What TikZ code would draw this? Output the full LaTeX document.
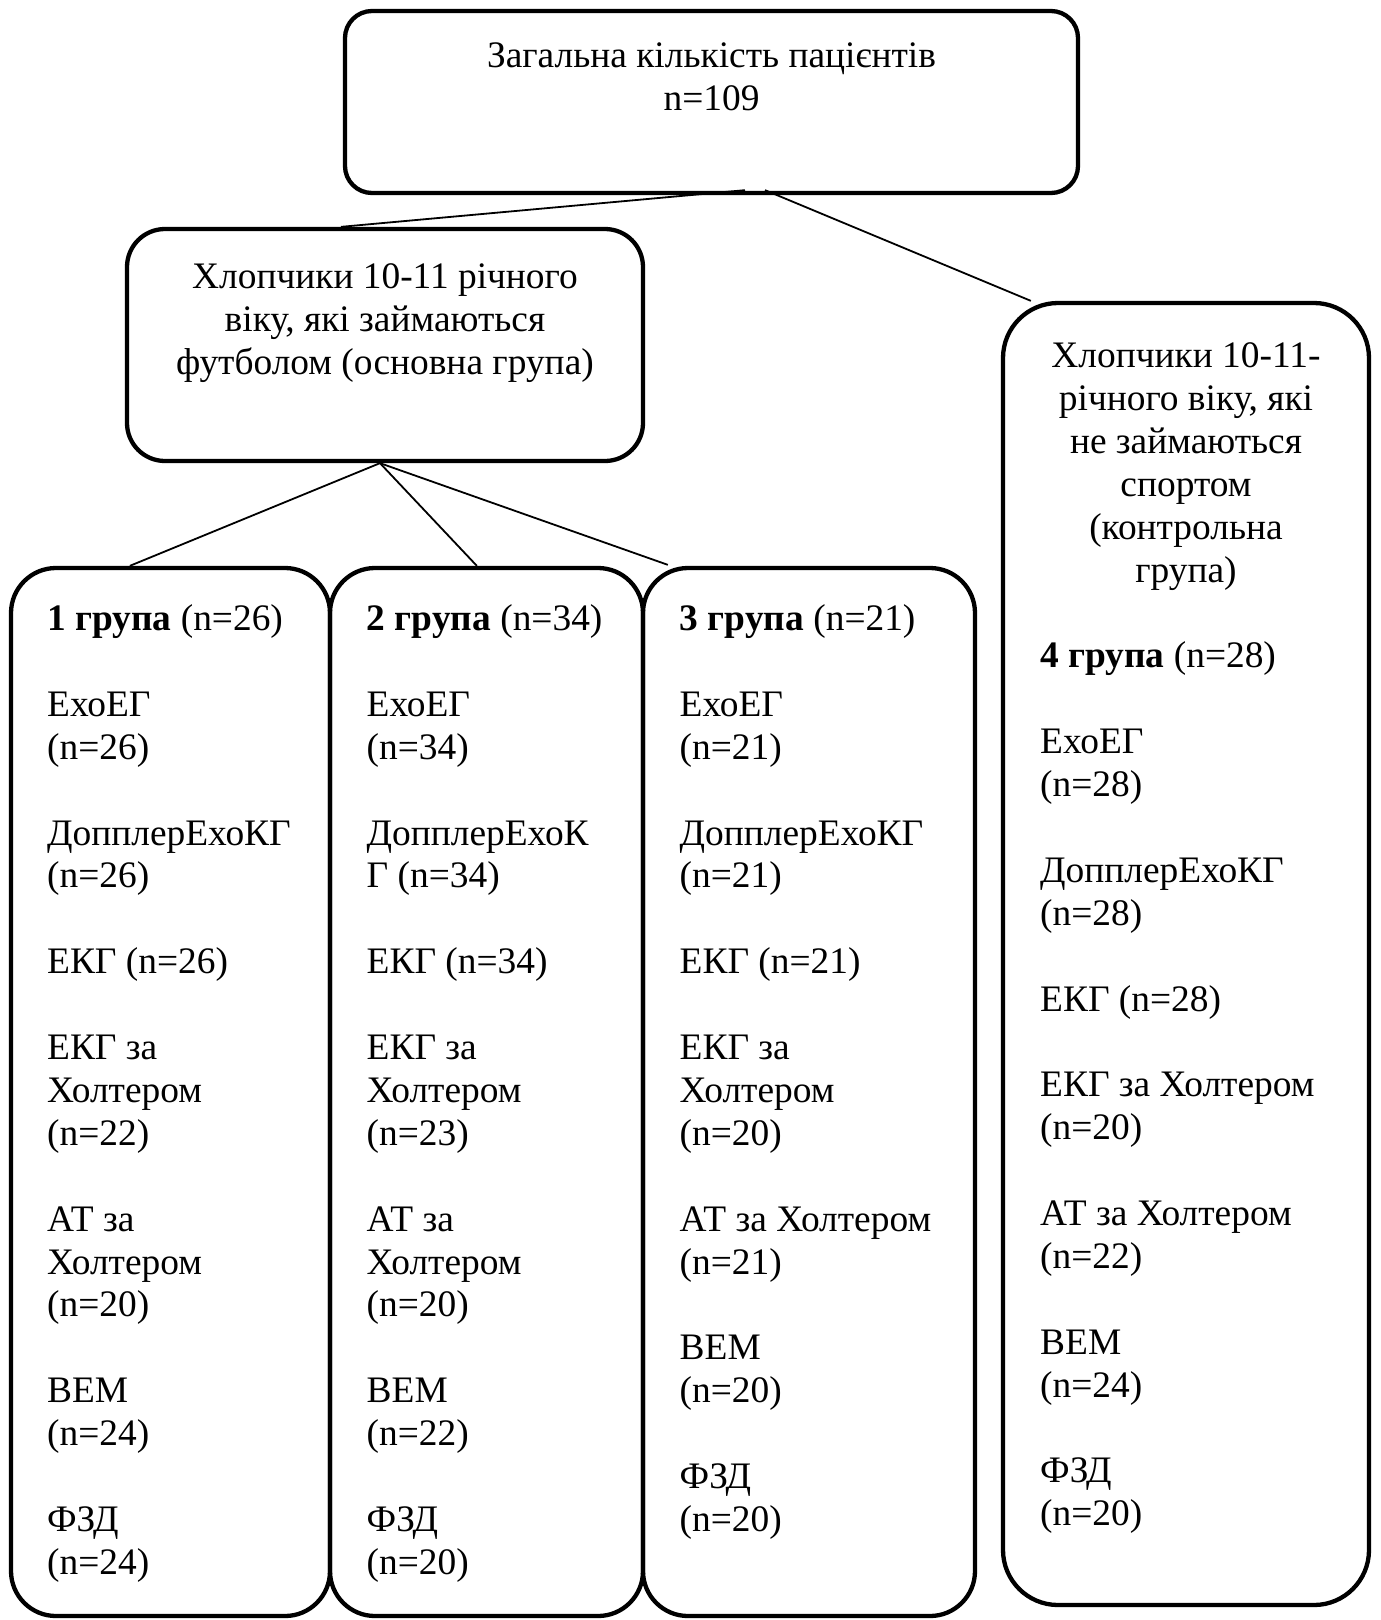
\documentclass[tikz,border=0pt]{standalone}
\usepackage{fontspec}
\setmainfont{Liberation Serif}
\begin{document}
\begin{tikzpicture}[x=1pt,y=-1pt,
  box/.style={draw, line width=4.3pt, inner sep=0pt, rectangle},
  conn/.style={draw, line width=1.8pt},
  txt/.style={inner sep=0pt, anchor=base west, font=\fontsize{37.4}{43}\selectfont},
  ctxt/.style={inner sep=0pt, anchor=base, font=\fontsize{37.4}{43}\selectfont}]
\useasboundingbox (0,0) rectangle (1381,1620);

% boxes
\node[box, minimum width=733pt, minimum height=182pt, rounded corners=27pt] (top) at (711.5,102) {};
\node[box, minimum width=516pt, minimum height=232pt, rounded corners=38pt] (main) at (385,345) {};
\node[box, minimum width=366pt, minimum height=1302pt, rounded corners=55pt] (ctrl) at (1186,954) {};
\node[box, minimum width=319pt, minimum height=1048pt, rounded corners=45pt] (g1) at (170.5,1092) {};
\node[box, minimum width=313pt, minimum height=1048pt, rounded corners=45pt] (g2) at (486.5,1092) {};
\node[box, minimum width=332pt, minimum height=1048pt, rounded corners=45pt] (g3) at (809,1092) {};

% connector end points
\coordinate (topA) at ([xshift=33.5pt,yshift=5pt]top.south);
\coordinate (topB) at ([xshift=53.5pt,yshift=5pt]top.south);
\coordinate (mainIn) at ([xshift=216pt]main.north west);
\coordinate (ctrlIn) at ([xshift=30pt]ctrl.north west);
\coordinate (apex) at ([xshift=-5pt]main.south);
\coordinate (g1In) at ([xshift=121pt]g1.north west);
\coordinate (g2In) at ([xshift=149pt]g2.north west);
\coordinate (g3In) at ([xshift=27pt,yshift=1pt]g3.north west);

\draw[conn] (topA) -- (mainIn);
\draw[conn] (topB) -- (ctrlIn);
\draw[conn] (apex) -- (g1In);
\draw[conn] (apex) -- (g2In);
\draw[conn] (apex) -- (g3In);

% texts
\node[ctxt] (t1) at (711.5,67.5) {Загальна кількість пацієнтів};
\node[ctxt] (t2) at (711.5,110.5) {n=109};

\node[ctxt] (m1) at (385,288.5) {Хлопчики 10-11 річного};
\node[ctxt] (m2) at (385,331.5) {віку, які займаються};
\node[ctxt] (m3) at (385,374.5) {футболом (основна група)};

\foreach \k/\t in {0/{Хлопчики 10-11-}, 1/{річного віку, які}, 2/{не займаються},
  3/{спортом}, 4/{(контрольна}, 5/{група)}}
  \node[ctxt] (c\k) at (1186,{367.5+42.9*\k}) {\t};

\foreach \k/\t in {7/{\textbf{4 група} (n=28)}, 9/{ЕхоЕГ}, 10/{(n=28)}, 12/{ДопплерЕхоКГ},
  13/{(n=28)}, 15/{ЕКГ (n=28)}, 17/{ЕКГ за Холтером}, 18/{(n=20)}, 20/{АТ за Холтером},
  21/{(n=22)}, 23/{ВЕМ}, 24/{(n=24)}, 26/{ФЗД}, 27/{(n=20)}}
  \node[txt] (c\k) at (1040,{367.5+42.9*\k}) {\t};

\foreach \k/\t in {0/{\textbf{1 група} (n=26)}, 2/{ЕхоЕГ}, 3/{(n=26)}, 5/{ДопплерЕхоКГ},
  6/{(n=26)}, 8/{ЕКГ (n=26)}, 10/{ЕКГ за}, 11/{Холтером}, 12/{(n=22)}, 14/{АТ за},
  15/{Холтером}, 16/{(n=20)}, 18/{ВЕМ}, 19/{(n=24)}, 21/{ФЗД}, 22/{(n=24)}}
  \node[txt] (a\k) at (47,{630.5+42.9*\k}) {\t};

\foreach \k/\t in {0/{\textbf{2 група} (n=34)}, 2/{ЕхоЕГ}, 3/{(n=34)}, 5/{ДопплерЕхоК},
  6/{Г (n=34)}, 8/{ЕКГ (n=34)}, 10/{ЕКГ за}, 11/{Холтером}, 12/{(n=23)}, 14/{АТ за},
  15/{Холтером}, 16/{(n=20)}, 18/{ВЕМ}, 19/{(n=22)}, 21/{ФЗД}, 22/{(n=20)}}
  \node[txt] (b\k) at (366.5,{630.5+42.9*\k}) {\t};

\foreach \k/\t in {0/{\textbf{3 група} (n=21)}, 2/{ЕхоЕГ}, 3/{(n=21)}, 5/{ДопплерЕхоКГ},
  6/{(n=21)}, 8/{ЕКГ (n=21)}, 10/{ЕКГ за}, 11/{Холтером}, 12/{(n=20)}, 14/{АТ за Холтером},
  15/{(n=21)}, 17/{ВЕМ}, 18/{(n=20)}, 20/{ФЗД}, 21/{(n=20)}}
  \node[txt] (d\k) at (679.5,{630.5+42.9*\k}) {\t};
\end{tikzpicture}
\end{document}
